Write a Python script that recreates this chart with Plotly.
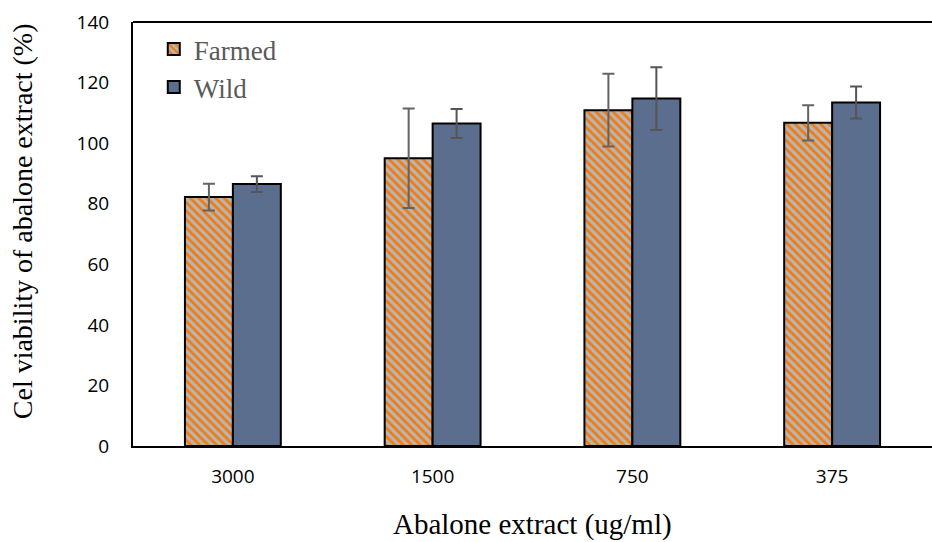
import plotly.graph_objects as go

categories = ["3000", "1500", "750", "375"]
farmed = [82.2, 95.0, 110.9, 106.7]
farmed_err = [4.4, 16.4, 12.0, 5.8]
wild = [86.5, 106.5, 114.7, 113.4]
wild_err = [2.6, 4.8, 10.4, 5.3]
y_ticks = [0, 20, 40, 60, 80, 100, 120, 140]

fig = go.Figure()
fig.add_trace(go.Bar(
    name="Farmed", x=categories, y=farmed, legendgroup="a",
    marker=dict(color="#B9B5B1",
                line=dict(color="black", width=2),
                pattern=dict(shape="\\", fgcolor="#F07A12", bgcolor="#B9B5B1",
                             size=6, solidity=0.45, fillmode="replace")),
    error_y=dict(type="data", array=farmed_err, color="#636363", thickness=2, width=6),
))
fig.add_trace(go.Bar(
    name="Wild", x=categories, y=wild, legendgroup="b",
    marker=dict(color="#5B6E8D", line=dict(color="black", width=2)),
    error_y=dict(type="data", array=wild_err, color="#555555", thickness=2, width=6),
))

fig.update_layout(
    width=932, height=542,
    margin=dict(l=133, r=0, t=22, b=96),
    plot_bgcolor="white", paper_bgcolor="white",
    barmode="group", bargap=0.52, bargroupgap=0,
    showlegend=True,
    legend=dict(x=0.026, y=0.993, xanchor="left", yanchor="top",
                font=dict(family="Liberation Serif", size=27, color="#595959"),
                bgcolor="rgba(0,0,0,0)", traceorder="grouped", tracegroupgap=0,
                itemwidth=30),
    font=dict(family="Open Sans", size=19, color="black"),
)
fig.update_xaxes(showline=True, linecolor="black", linewidth=2, showgrid=False,
                 ticks="", tickfont=dict(family="Open Sans", size=19, color="black"),
                 ticklabelstandoff=12)
fig.update_yaxes(range=[0, 140], tickvals=y_ticks, showline=True, linecolor="black",
                 linewidth=2, showgrid=False, ticks="", zeroline=False,
                 tickfont=dict(family="Open Sans", size=19, color="black"),
                 ticklabelstandoff=18)
fig.add_shape(type="line", xref="paper", yref="paper", x0=0, x1=1, y0=1, y1=1,
              line=dict(color="black", width=2))
fig.add_annotation(text="Cel viability of abalone extract (%)", xref="paper", yref="paper",
                   x=-0.139, y=0.53, textangle=-90, showarrow=False,
                   xanchor="center", yanchor="middle",
                   font=dict(family="Liberation Serif", size=28, color="black"))
fig.add_annotation(text="Abalone extract (ug/ml)", xref="paper", yref="paper",
                   x=0.5, y=-0.186, showarrow=False, xanchor="center", yanchor="middle",
                   font=dict(family="Liberation Serif", size=29, color="black"))

fig.write_html("out.html")
